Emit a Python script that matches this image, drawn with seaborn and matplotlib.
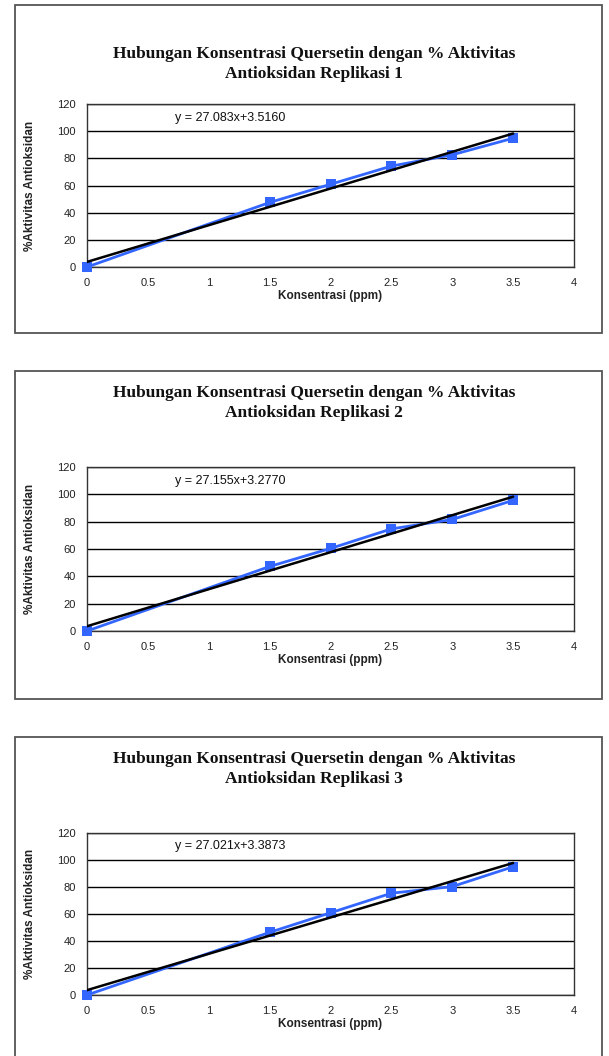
import matplotlib
matplotlib.use("Agg")
import matplotlib.pyplot as plt
from matplotlib.patches import Rectangle
import seaborn as sns
import pandas as pd

# Data
konsentrasi = [0, 1.5, 2, 2.5, 3, 3.5]
aktivitas_rep1 = [0, 47.5, 60.9, 74.3, 82.6, 94.8]
aktivitas_rep2 = [0, 47.2, 60.4, 74.7, 81.6, 95.6]
aktivitas_rep3 = [0, 46.4, 60.9, 75.4, 80.3, 95.0]
persamaan = ["y = 27.083x+3.5160", "y = 27.155x+3.2770", "y = 27.021x+3.3873"]
replikasi = ["1", "2", "3"]
x_ticks = [0, 0.5, 1, 1.5, 2, 2.5, 3, 3.5, 4]
y_ticks = [0, 20, 40, 60, 80, 100, 120]

sns.set_theme(style="white")
plt.rcParams["font.family"] = ["Liberation Sans", "DejaVu Sans"]

W, H = 609, 1056
fig = plt.figure(figsize=(W / 100, H / 100), dpi=100)

# layout in pixels: (box top, box bottom, title centre y, axes top, axes bottom)
layout = [
    (5, 333, 64, 104, 267),
    (371, 699, 403, 467, 631),
    (737, 1070, 769, 833, 995),
]
ax_left, ax_right = 87, 574
box_left, box_right = 15, 602

series = [aktivitas_rep1, aktivitas_rep2, aktivitas_rep3]

for i, (box_t, box_b, title_y, ax_t, ax_b) in enumerate(layout):
    # outer chart frame
    fig.patches.append(Rectangle(
        (box_left / W, 1 - box_b / H), (box_right - box_left) / W, (box_b - box_t) / H,
        transform=fig.transFigure, fill=False, edgecolor="#555555", linewidth=1.3))

    fig.text(314 / W, 1 - title_y / H,
             f"Hubungan Konsentrasi Quersetin dengan % Aktivitas\nAntioksidan Replikasi {replikasi[i]}",
             ha="center", va="center", fontsize=12.5, fontweight="bold", color="#111111",
             family=["Liberation Serif", "DejaVu Serif"], linespacing=1.3)

    ax = fig.add_axes([ax_left / W, 1 - ax_b / H, (ax_right - ax_left) / W, (ax_b - ax_t) / H])
    df = pd.DataFrame({"x": konsentrasi, "y": series[i]})

    sns.lineplot(data=df, x="x", y="y", ax=ax, color="#3366ff", linewidth=2,
                 marker="s", markersize=7, markeredgewidth=0, zorder=3)
    for line in ax.lines:
        line.set_clip_on(False)
    sns.regplot(data=df, x="x", y="y", ax=ax, ci=None, scatter=False, truncate=True,
                color="black", line_kws={"linewidth": 1.8, "zorder": 4})

    ax.set_xlim(0, 4)
    ax.set_ylim(0, 120)
    ax.set_xticks(x_ticks)
    ax.set_xticklabels([f"{t:g}" for t in x_ticks])
    ax.set_yticks(y_ticks)
    ax.yaxis.grid(True, color="black", linewidth=1)
    ax.set_axisbelow(True)
    for s in ax.spines.values():
        s.set_color("#333333")
        s.set_linewidth(1)
    ax.tick_params(axis="x", direction="in", length=3, width=1, color="#333333",
                   labelsize=8, pad=8)
    ax.tick_params(axis="y", direction="in", length=0, labelsize=8, pad=8)
    ax.tick_params(labelcolor="#222222")

    ax.set_xlabel("Konsentrasi (ppm)", fontsize=8.5, fontweight="bold", color="#222222")
    ax.set_ylabel("%Aktivitas Antioksidan", fontsize=8.5, fontweight="bold", color="#222222")
    ax.xaxis.set_label_coords(0.5, -0.14)
    ax.yaxis.set_label_coords(-0.105, 0.5)

    ax.text(0.72, 110, persamaan[i], fontsize=9, va="center", ha="left", color="#111111")

fig.savefig("out.png", dpi=100)
